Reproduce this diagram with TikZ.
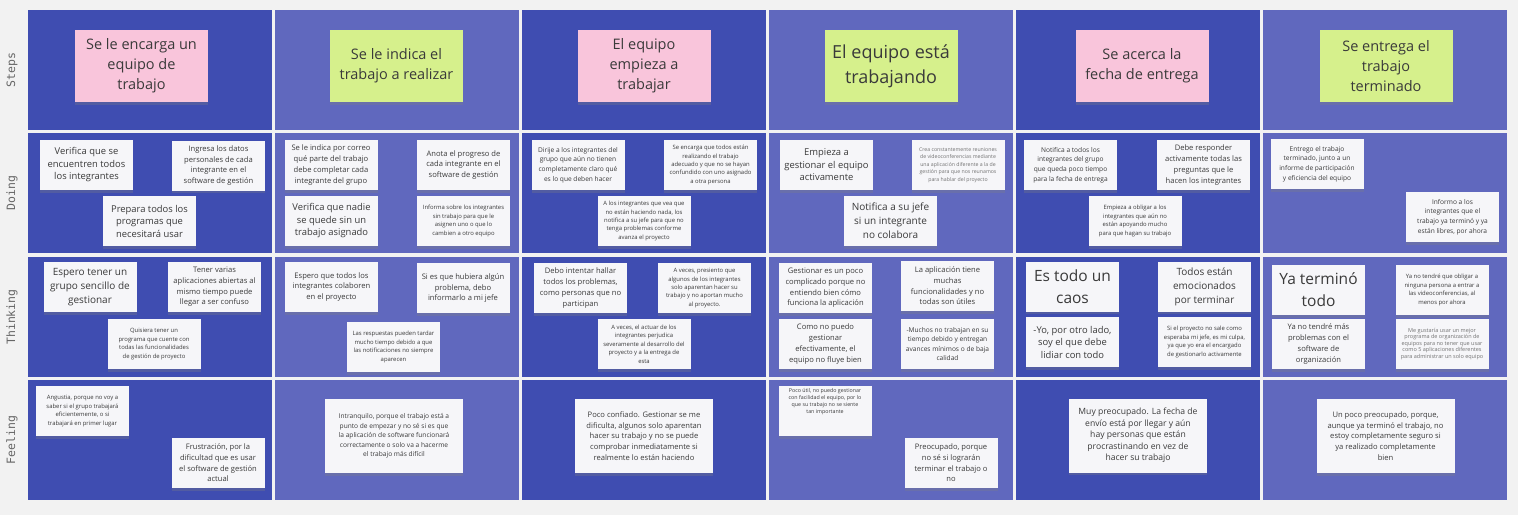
\documentclass[tikz,border=0pt]{standalone}
\usepackage{fontspec}
\setmainfont{Open Sans}
\newfontfamily\rowfont{DejaVu Sans Mono}
\usepackage{tikz}
\usetikzlibrary{shadows}

\definecolor{dark}{HTML}{3F4DB1}
\definecolor{light}{HTML}{6068BE}
\definecolor{canvas}{HTML}{F2F2F2}
\definecolor{pinknote}{HTML}{F9C5DB}
\definecolor{greennote}{HTML}{D6F08C}
\definecolor{paper}{HTML}{F6F6F9}
\definecolor{ink}{HTML}{3A3A3A}

\begin{document}
\begin{tikzpicture}[
  x=1pt, y=-1pt,
  rowlabel/.style={rotate=90, text=black!60, font=\rowfont\fontsize{11.5}{12}\selectfont},
  stepnote/.style={rectangle, align=center, text=ink, minimum width=133pt, minimum height=72pt, inner sep=2pt,
    font=\fontsize{14.5}{20}\selectfont, drop shadow={shadow xshift=0pt, shadow yshift=-2.5pt, opacity=.3}},
  note/.style={rectangle, fill=paper, align=center, text=ink, minimum width=93pt, minimum height=50pt, inner sep=1pt,
    drop shadow={shadow xshift=0pt, shadow yshift=-2.5pt, opacity=.3}},
  wide/.style={note, minimum width=138pt, minimum height=74pt},
  fa/.style={font=\fontsize{9.4}{12.5}\selectfont},
  fb/.style={font=\fontsize{7.6}{10.7}\selectfont},
  fc/.style={font=\fontsize{6.6}{9.6}\selectfont},
  fd/.style={font=\fontsize{5.9}{8.4}\selectfont},
  fe/.style={font=\fontsize{5.2}{7.4}\selectfont, text=black!55},
  ff/.style={font=\fontsize{10}{14}\selectfont},
  fg/.style={font=\fontsize{15.5}{22}\selectfont},
  fh/.style={font=\fontsize{8.6}{11.6}\selectfont}
]
\useasboundingbox[fill=canvas] (0,0) rectangle (1518,515);

% lanes
\foreach \c/\col in {0/dark,1/light,2/dark,3/light,4/dark,5/light}
  \foreach \r in {10,133.3,256.7,380}
    \fill[\col] ({28+247*\c},\r) rectangle ++(244,120);

\node[rowlabel] (lsteps) at (12,70) {Steps};
\node[rowlabel] (ldoing) at (12,193) {Doing};
\node[rowlabel] (lthinking) at (12,317) {Thinking};
\node[rowlabel] (lfeeling) at (12,440) {Feeling};

% steps
\node[stepnote, fill=pinknote] (s1) at (141.5,66) {Se le encarga un\\equipo de\\trabajo};
\node[stepnote, fill=greennote] (s2) at (396.5,66) {Se le indica el\\trabajo a realizar};
\node[stepnote, fill=pinknote] (s3) at (644,66) {El equipo\\empieza a\\trabajar};
\node[stepnote, fill=greennote, font=\fontsize{18}{25}\selectfont] (s4) at (891,66) {El equipo está\\trabajando};
\node[stepnote, fill=pinknote] (s5) at (1142,66) {Se acerca la\\fecha de entrega};
\node[stepnote, fill=greennote] (s6) at (1386,66) {Se entrega el\\trabajo\\terminado};

% doing
\node[note, fa] (d1a) at (86.5,165) {Verifica que se\\encuentren todos\\los integrantes};
\node[note, fb] (d1b) at (218.5,165.5) {Ingresa los datos\\personales de cada\\integrante en el\\software de gestión};
\node[note, fa] (d1c) at (149.5,221) {Prepara todos los\\programas que\\necesitará usar};
\node[note, fb] (d2a) at (331,165) {Se le indica por correo\\qué parte del trabajo\\debe completar cada\\integrante del grupo};
\node[note, fb] (d2b) at (463.5,165) {Anota el progreso de\\cada integrante en el\\software de gestión};
\node[note, fa] (d2c) at (331.5,221) {Verifica que nadie\\se quede sin un\\trabajo asignado};
\node[note, fd] (d2d) at (463.5,221) {Informa sobre los integrantes\\sin trabajo para que le\\asignen uno o que lo\\cambien a otro equipo};
\node[note, fc] (d3a) at (578,165) {Dirije a los integrantes del\\grupo que aún no tienen\\completamente claro qué\\es lo que deben hacer};
\node[note, fd] (d3b) at (710.5,165) {Se encarga que todos están\\realizando el trabajo\\adecuado y que no se hayan\\confundido con uno asignado\\a otra persona};
\node[note, fd] (d3c) at (644,221) {A los integrantes que vea que\\no están haciendo nada, los\\notifica a su jefe para que no\\tenga problemas conforme\\avanza el proyecto};
\node[note, fa] (d4a) at (826.5,165) {Empieza a\\gestionar el equipo\\activamente};
\node[note, fe] (d4b) at (958,165) {Crea constantemente reuniones\\de videoconferencias mediante\\una aplicación diferente a la de\\gestión para que nos reunamos\\para hablar del proyecto};
\node[note, ff] (d4c) at (890.5,221) {Notifica a su jefe\\si un integrante\\no colabora};
\node[note, fc] (d5a) at (1070.5,165) {Notifica a todos los\\integrantes del grupo\\que queda poco tiempo\\para la fecha de entrega};
\node[note, fb] (d5b) at (1203.5,165) {Debe responder\\activamente todas las\\preguntas que le\\hacen los integrantes};
\node[note, fd] (d5c) at (1135,221) {Empieza a obligar a los\\integrantes que aún no\\están apoyando mucho\\para que hagan su trabajo};
\node[note, fc] (d6a) at (1317,164) {Entrego el trabajo\\terminado, junto a un\\informe de participación\\y eficiencia del equipo};
\node[note, fc] (d6b) at (1452.5,217) {Informo a los\\integrantes que el\\trabajo ya terminó y ya\\están libres, por ahora};

% thinking
\node[note, ff] (t1a) at (90,287) {Espero tener un\\grupo sencillo de\\gestionar};
\node[note, fb] (t1b) at (214.5,287) {Tener varias\\aplicaciones abiertas al\\mismo tiempo puede\\llegar a ser confuso};
\node[note, fd] (t1c) at (154,344) {Quisiera tener un\\programa que cuente con\\todas las funcionalidades\\de gestión de proyecto};
\node[note, fb] (t2a) at (331.5,287) {Espero que todos los\\integrantes colaboren\\en el proyecto};
\node[note, fb] (t2b) at (463,288) {Si es que hubiera algún\\problema, debo\\informarlo a mi jefe};
\node[note, fd] (t2c) at (393.5,347) {Las respuestas pueden tardar\\mucho tiempo debido a que\\las notificaciones no siempre\\aparecen};
\node[note, fb] (t3a) at (580.5,288) {Debo intentar hallar\\todos los problemas,\\como personas que no\\participan};
\node[note, fd] (t3b) at (704.5,288) {A veces, presiento que\\algunos de los integrantes\\solo aparentan hacer su\\trabajo y no aportan mucho\\al proyecto.};
\node[note, fd] (t3c) at (644,344) {A veces, el actuar de los\\integrantes perjudica\\severamente al desarrollo del\\proyecto y a la entrega de\\esta};
\node[note, fb] (t4a) at (825.5,288) {Gestionar es un poco\\complicado porque no\\entiendo bien cómo\\funciona la aplicación};
\node[note, fb] (t4b) at (947.5,286) {La aplicación tiene\\muchas\\funcionalidades y no\\todas son útiles};
\node[note, fb] (t4c) at (825.5,344) {Como no puedo\\gestionar\\efectivamente, el\\equipo no fluye bien};
\node[note, fc] (t4d) at (947.5,344) {-Muchos no trabajan en su\\tiempo debido y entregan\\avances mínimos o de baja\\calidad};
\node[note, fg] (t5a) at (1072.5,286.5) {Es todo un\\caos};
\node[note, ff] (t5b) at (1204.5,286.5) {Todos están\\emocionados\\por terminar};
\node[note, fa] (t5c) at (1072.5,342) {-Yo, por otro lado,\\soy el que debe\\lidiar con todo};
\node[note, fd] (t5d) at (1204.5,342) {Si el proyecto no sale como\\esperaba mi jefe, es mi culpa,\\ya que yo era el encargado\\de gestionarlo activamente};
\node[note, fg] (t6a) at (1318.5,290) {Ya terminó\\todo};
\node[note, fd] (t6b) at (1442,290) {Ya no tendré que obligar a\\ninguna persona a entrar a\\las videoconferencias, al\\menos por ahora};
\node[note, fb] (t6c) at (1318.5,344) {Ya no tendré más\\problemas con el\\software de\\organización};
\node[note, fe, font=\fontsize{5.5}{6.5}\selectfont] (t6d) at (1442,344) {Me gustaría usar un mejor\\programa de organización de\\equipos para no tener que usar\\como 5 aplicaciones diferentes\\para administrar un solo equipo};

% feeling
\node[note, fd] (f1a) at (82.5,411) {Angustia, porque no voy a\\saber si el grupo trabajará\\eficientemente, o si\\trabajará en primer lugar};
\node[note, fb] (f1b) at (218,463) {Frustración, por la\\dificultad que es usar\\el software de gestión\\actual};
\node[wide, fc] (f2) at (394,436) {Intranquilo, porque el trabajo está a\\punto de empezar y no sé si es que\\la aplicación de software funcionará\\correctamente o solo va a hacerme\\el trabajo más difícil};
\node[wide, fb] (f3) at (644,436) {Poco confiado. Gestionar se me\\dificulta, algunos solo aparentan\\hacer su trabajo y no se puede\\comprobar inmediatamente si\\realmente lo están haciendo};
\node[note, font=\fontsize{5.3}{7}\selectfont] (f4a) at (825,411) {\parbox[t][46pt][t]{90pt}{\centering Poco útil, no puedo gestionar\\con facilidad el equipo, por lo\\que su trabajo no se siente\\tan importante}};
\node[note, fb] (f4b) at (951,463) {Preocupado, porque\\no sé si lograrán\\terminar el trabajo o\\no};
\node[wide, fh] (f5) at (1138,435.5) {Muy preocupado. La fecha de\\envío está por llegar y aún\\hay personas que están\\procrastinando en vez de\\hacer su trabajo};
\node[wide, fb] (f6) at (1385.5,436) {Un poco preocupado, porque,\\aunque ya terminó el trabajo, no\\estoy completamente seguro si\\ya realizado completamente\\bien};
\end{tikzpicture}
\end{document}
